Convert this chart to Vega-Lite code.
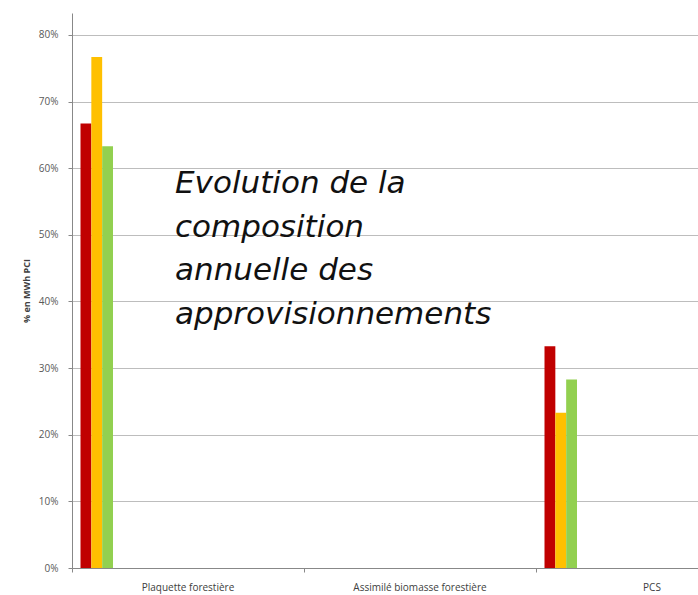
{
  "$schema": "https://vega.github.io/schema/vega-lite/v6.json",
  "autosize": "none",
  "width": 626,
  "height": 555,
  "padding": {"left": 72, "top": 13, "right": 0, "bottom": 27},
  "background": "white",
  "config": {
    "view": {"stroke": null},
    "font": "Open Sans"
  },
  "layer": [
    {
      "data": {
        "values": [
          {"categorie": "Plaquette forestière", "serie": "A", "part": 0.667},
          {"categorie": "Plaquette forestière", "serie": "B", "part": 0.767},
          {"categorie": "Plaquette forestière", "serie": "C", "part": 0.633},
          {"categorie": "Assimilé biomasse forestière", "serie": "A", "part": 0},
          {"categorie": "Assimilé biomasse forestière", "serie": "B", "part": 0},
          {"categorie": "Assimilé biomasse forestière", "serie": "C", "part": 0},
          {"categorie": "PCS", "serie": "A", "part": 0.333},
          {"categorie": "PCS", "serie": "B", "part": 0.233},
          {"categorie": "PCS", "serie": "C", "part": 0.283}
        ]
      },
      "mark": {"type": "bar"},
      "encoding": {
        "x": {
          "field": "categorie",
          "type": "nominal",
          "scale": {"domain": ["Plaquette forestière", "Assimilé biomasse forestière", "PCS"], "range": [0, 696], "paddingInner": 0, "paddingOuter": 0},
          "axis": {
            "title": null,
            "labelAngle": 0,
            "labelFontSize": 10,
            "labelColor": "#404040",
            "labelPadding": 10,
            "bandPosition": 0,
            "tickSize": 4,
            "tickColor": "#888888",
            "domainColor": "#888888",
            "grid": false
          }
        },
        "xOffset": {
          "field": "serie",
          "type": "nominal",
          "scale": {"range": [8.5, 41], "paddingInner": 0, "paddingOuter": 0}
        },
        "y": {
          "field": "part",
          "type": "quantitative",
          "scale": {"domain": [0, 0.833], "nice": false},
          "axis": {
            "title": "% en MWh PCI",
            "titleFontSize": 9,
            "titleFontWeight": "bold",
            "titleColor": "#404040",
            "titlePadding": 7,
            "values": [0, 0.1, 0.2, 0.3, 0.4, 0.5, 0.6, 0.7, 0.8],
            "format": ".0%",
            "labelFontSize": 10,
            "labelColor": "#595959",
            "labelPadding": 10,
            "tickSize": 4,
            "tickColor": "#888888",
            "domainColor": "#888888",
            "gridColor": "#bdbdbd",
            "gridWidth": 1.2
          }
        },
        "color": {
          "field": "serie",
          "type": "nominal",
          "scale": {"domain": ["A", "B", "C"], "range": ["#C00000", "#FFC000", "#92D050"]},
          "legend": null
        }
      }
    },
    {
      "data": {"values": [{"categorie": "Plaquette forestière", "pos": 0.5627}]},
      "mark": {
        "type": "text",
        "align": "left",
        "baseline": "alphabetic",
        "dx": -13,
        "font": "DejaVu Sans",
        "fontStyle": "italic",
        "fontSize": 31,
        "lineHeight": 43.5,
        "color": "#111111",
        "text": ["Evolution de la", "composition", "annuelle des", "approvisionnements"]
      },
      "encoding": {
        "x": {"field": "categorie", "type": "nominal"},
        "y": {"field": "pos", "type": "quantitative"}
      }
    }
  ]
}
